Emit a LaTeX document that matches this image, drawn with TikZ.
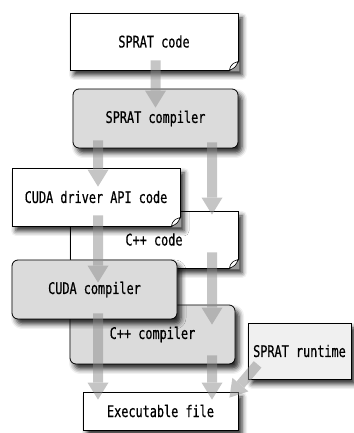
\documentclass[tikz,border=0pt]{standalone}
\usepackage{fontspec}
\newfontfamily\codefont[FakeStretch=0.74, FakeBold=0.6]{DejaVu Sans Mono}
\usepackage{tikz}
\usetikzlibrary{calc}
\usetikzlibrary{arrows.meta}
\usetikzlibrary{shadows.blur}

\tikzset{
  box/.style={draw, line width=0.8pt, inner sep=0pt, font=\codefont\fontsize{16}{19}\selectfont,
    blur shadow={shadow xshift=4pt, shadow yshift=-5pt, shadow blur radius=5pt, shadow opacity=85}},
  note/.style={box, fill=white, minimum width=168pt, minimum height=57pt},
  tool/.style={box, rounded corners=6pt, fill=black!14, minimum width=165pt, minimum height=59pt},
  flow/.style={line width=10pt, draw=black!45, -{Triangle[width=21pt, length=17pt, line width=0pt]}}
}

\begin{document}
\begin{tikzpicture}[x=1pt, y=1pt]
    \useasboundingbox (0, 0) rectangle (353, 433);

    \node[note] at (154  , 391.5) (sc)       {SPRAT code};
    \node[tool] at (155.5, 314.5) (scomp)    {SPRAT compiler};
    \node[note] at (154  , 193.5) (cppcode)  {C++ code};
    \node[note, minimum height=58pt] at (96, 236) (cudacode) {CUDA driver API code};
    \node[tool] at (152.5,  98.5) (cppcomp)  {C++ compiler};
    \node[tool] at (94.5 , 143.5) (cudacomp) {CUDA compiler};
    \node[box, fill=black!6, minimum width=103pt, minimum height=56pt] at (299.5, 82) (runtime) {SPRAT runtime};
    \node[box, fill=white, minimum width=155pt, minimum height=38pt] at (160.5, 22) (exe) {Executable file};

    % dog-ear corners of the code files
    \foreach \n in {sc, cppcode, cudacode} {
        \fill[black!40] ($(\n.south east)+(-9,-1)$) -- ($(\n.south east)+(1,-1)$) -- ($(\n.south east)+(1,9)$) -- cycle;
        \filldraw[fill=white, line width=0.6pt] ($(\n.south east)+(-9,0)$) .. controls ($(\n.south east)+(-8,4)$) .. ($(\n.south east)+(-5,7)$)
            -- ($(\n.south east)+(0,9)$) .. controls ($(\n.south east)+(-3,3)$) .. ($(\n.south east)+(-9,0)$) -- cycle;
    }

    \begin{scope}[transparency group, opacity=0.5]
        \draw[flow] ($(sc.south)+(1.5,10)$)       -- ($(scomp.north)+(0,-19)$);
        \draw[flow] ($(scomp.south)+(-57.5,8)$)   -- ($(cudacode.north)+(2,-19)$);
        \draw[flow] ($(scomp.south)+(56.5,6)$)    -- ($(cppcode.north)+(58,-4)$);
        \draw[flow] ($(cudacode.south)+(2,11)$)   -- ($(cudacomp.north)+(3.5,-23)$);
        \draw[flow] ($(cppcode.south)+(58,16)$)   -- ($(cppcomp.north)+(59.5,-20)$);
        \draw[flow] ($(cudacomp.south)+(3.5,6)$)  -- ($(exe.north)+(-62.5,-8)$);
        \draw[flow] ($(cppcomp.south)+(59.5,9)$)  -- ($(exe.north)+(51.5,-8)$);
        \draw[flow] ($(runtime.south west)+(10,15)$) -- ($(exe.north east)+(-9,-6)$);
    \end{scope}
\end{tikzpicture}
\end{document}
